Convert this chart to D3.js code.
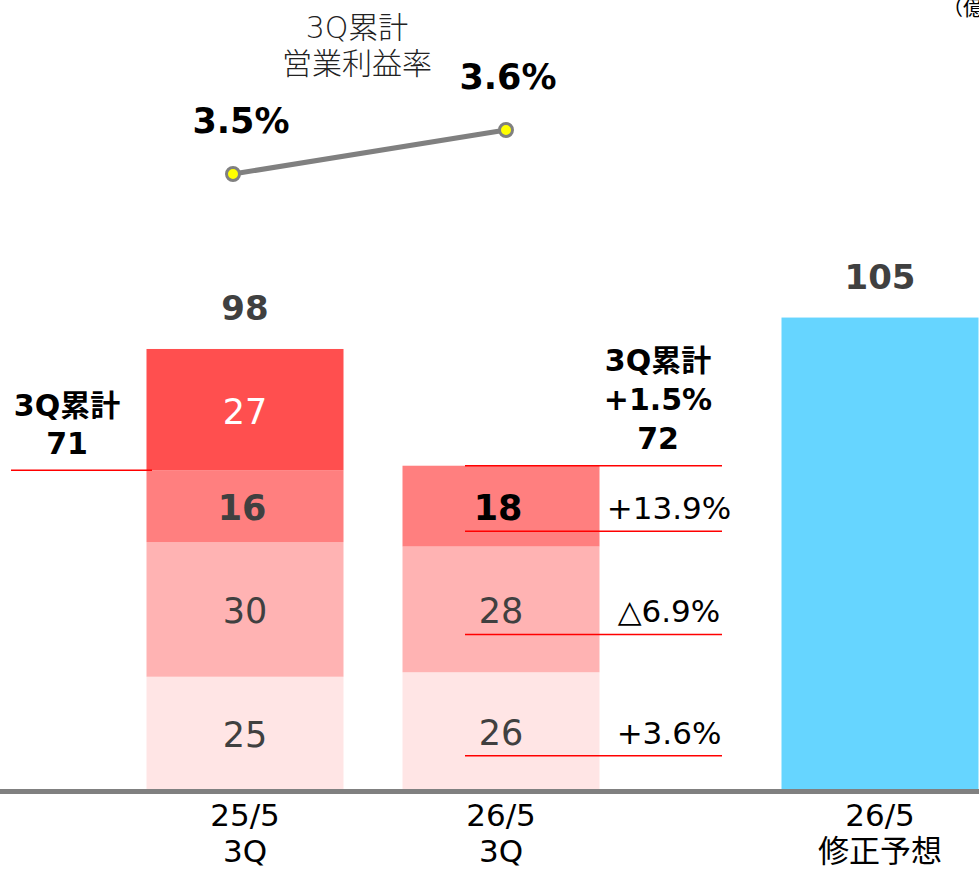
<!DOCTYPE html>
<html>
<head>
<meta charset="utf-8">
<script src="https://cdn.jsdelivr.net/npm/d3@7"></script>
<style>
  body { margin: 0; background: #fff; }
  svg { display: block; }
  text { font-family: "DejaVu Sans", "Noto Sans CJK JP", sans-serif; }
</style>
</head>
<body>
<svg id="chart"></svg>
<script>
// data
var categories = ["25/5 3Q", "26/5 3Q", "26/5 修正予想"];
var catLines = [["25/5", "3Q"], ["26/5", "3Q"], ["26/5", "修正予想"]];
var quarters = ["1Q", "2Q", "3Q", "4Q"];
var q1 = [25, 26, 0];
var q2 = [30, 28, 0];
var q3 = [16, 18, 0];
var q4 = [27, 0, 0];
var forecast = [0, 0, 105];
var totals = [98, null, 105];
var marginRate = [3.5, 3.6];
var cumulative = [71, 72];
var growth = ["+3.6%", "△6.9%", "+13.9%"]; // 1Q, 2Q, 3Q yoy
var cumGrowth = "+1.5%";

var W = 979, H = 871;
var svg = d3.select("#chart").attr("width", W).attr("height", H);

var x = d3.scaleOrdinal().domain(categories).range([245, 501, 880]);
var barW = 197;
var y = d3.scaleLinear().domain([0, 100]).range([789, 340]);

var colors = d3.scaleOrdinal().domain(quarters)
    .range(["#FFE5E5", "#FFB3B3", "#FF7F7F", "#FF4F4F"]);

var rows = categories.map(function(c, i){
    return { cat: c, "1Q": q1[i], "2Q": q2[i], "3Q": q3[i], "4Q": q4[i] };
});
var series = d3.stack().keys(quarters)(rows);

// stacked bars
var g = svg.append("g");
series.forEach(function(s){
    g.selectAll(null).data(s.filter(function(d){ return d[1] > d[0]; }))
        .enter().append("rect")
        .attr("x", function(d){ return x(d.data.cat) - barW / 2; })
        .attr("width", barW)
        .attr("y", function(d){ return y(d[1]); })
        .attr("height", function(d){ return y(d[0]) - y(d[1]); })
        .attr("fill", colors(s.key));
});

// forecast bar
g.selectAll(null).data(categories.filter(function(c, i){ return forecast[i] > 0; }))
    .enter().append("rect")
    .attr("x", function(c){ return x(c) - barW / 2; })
    .attr("width", barW)
    .attr("y", function(c){ return y(forecast[categories.indexOf(c)]); })
    .attr("height", function(c){ return y(0) - y(forecast[categories.indexOf(c)]); })
    .attr("fill", "#66D5FF");

// segment labels
var labelStyle = {
    "1Q": { fill: "#404040", weight: "normal" },
    "2Q": { fill: "#404040", weight: "normal" },
    "3Q": { fill: "#404040", weight: "bold" },
    "4Q": { fill: "#ffffff", weight: "normal" }
};
series.forEach(function(s){
    g.selectAll(null).data(s.filter(function(d){ return d[1] > d[0]; }))
        .enter().append("text")
        .attr("x", function(d){ return x(d.data.cat) - (s.key === "3Q" ? 3 : 0); })
        .attr("y", function(d){ return (y(d[0]) + y(d[1])) / 2 + 2; })
        .attr("text-anchor", "middle")
        .attr("dominant-baseline", "central")
        .attr("font-size", 35)
        .attr("font-weight", labelStyle[s.key].weight)
        .attr("fill", function(d){ return (s.key === "3Q" && d.data.cat === categories[1]) ? "#000" : labelStyle[s.key].fill; })
        .text(function(d){ return d[1] - d[0]; });
});

// totals
g.selectAll(null).data(categories.filter(function(c, i){ return totals[i] != null; }))
    .enter().append("text")
    .attr("x", function(c){ return x(c); })
    .attr("y", function(c){ return y(totals[categories.indexOf(c)]) - 41; })
    .attr("text-anchor", "middle")
    .attr("dominant-baseline", "central")
    .attr("font-size", 34)
    .attr("font-weight", "bold")
    .attr("fill", "#404040")
    .text(function(c){ return totals[categories.indexOf(c)]; });

// baseline
svg.append("line")
    .attr("x1", 0).attr("x2", W)
    .attr("y1", y(0) + 2.5).attr("y2", y(0) + 2.5)
    .attr("stroke", "#808080").attr("stroke-width", 5);

// category labels
catLines.forEach(function(lines, i){
    var t = svg.append("text")
        .attr("x", x(categories[i]))
        .attr("text-anchor", "middle")
        .attr("font-family", "'Noto Sans CJK JP', sans-serif")
        .attr("font-size", 31)
        .attr("fill", "#000");
    lines.forEach(function(l, k){
        t.append("tspan").attr("x", x(categories[i])).attr("y", 826 + k * 36).text(l);
    });
});

// 3Q cumulative annotations
var red = "#FF0000";
svg.append("line")
    .attr("x1", 11).attr("x2", 152)
    .attr("y1", y(cumulative[0])).attr("y2", y(cumulative[0]))
    .attr("stroke", red).attr("stroke-width", 1.5);
var leftLbl = ["3Q累計", String(cumulative[0])];
leftLbl.forEach(function(l, k){
    svg.append("text")
        .attr("x", 67).attr("y", 405 + k * 38)
        .attr("text-anchor", "middle").attr("dominant-baseline", "central")
        .attr("font-size", 30).attr("font-weight", "bold").attr("fill", "#000")
        .text(l);
});

svg.append("line")
    .attr("x1", 465).attr("x2", 722)
    .attr("y1", y(cumulative[1])).attr("y2", y(cumulative[1]))
    .attr("stroke", red).attr("stroke-width", 1.5);
var rightLbl = ["3Q累計", cumGrowth, String(cumulative[1])];
rightLbl.forEach(function(l, k){
    svg.append("text")
        .attr("x", 658).attr("y", 360 + k * 39)
        .attr("text-anchor", "middle").attr("dominant-baseline", "central")
        .attr("font-size", 30).attr("font-weight", "bold").attr("fill", "#000")
        .text(l);
});

// yoy growth per quarter with underline
var s2 = series.slice(0, 3).map(function(s){ return s[1]; });
s2.forEach(function(d, i){
    var cy = (y(d[0]) + y(d[1])) / 2 + 2;
    svg.append("text")
        .attr("x", 669).attr("y", cy)
        .attr("text-anchor", "middle").attr("dominant-baseline", "central")
        .attr("font-size", 31).attr("fill", "#000")
        .text(growth[i]);
    svg.append("line")
        .attr("x1", 465).attr("x2", 722)
        .attr("y1", cy + 23).attr("y2", cy + 23)
        .attr("stroke", red).attr("stroke-width", 1.5);
});

// operating margin line
var lx = d3.scalePoint().domain(categories.slice(0, 2)).range([233, 506]);
var ly = d3.scaleLinear().domain([3.5, 3.6]).range([174, 130]);
var mData = marginRate.map(function(v, i){ return { cat: categories[i], v: v }; });

svg.append("path")
    .datum(mData)
    .attr("d", d3.line().x(function(d){ return lx(d.cat); }).y(function(d){ return ly(d.v); }))
    .attr("fill", "none").attr("stroke", "#808080").attr("stroke-width", 5);

svg.selectAll(".mdot").data(mData).enter().append("circle")
    .attr("class", "mdot")
    .attr("cx", function(d){ return lx(d.cat); })
    .attr("cy", function(d){ return ly(d.v); })
    .attr("r", 6.5)
    .attr("fill", "#FFFF00").attr("stroke", "#808080").attr("stroke-width", 3);

svg.selectAll(".mlbl").data(mData).enter().append("text")
    .attr("class", "mlbl")
    .attr("x", function(d){ return lx(d.cat) + (d.v === marginRate[0] ? 8 : 2); })
    .attr("y", function(d){ return ly(d.v) - 53; })
    .attr("text-anchor", "middle").attr("dominant-baseline", "central")
    .attr("font-size", 35).attr("font-weight", "bold").attr("fill", "#000")
    .text(function(d){ return d.v.toFixed(1) + "%"; });

["3Q累計", "営業利益率"].forEach(function(l, k){
    svg.append("text")
        .attr("x", 357).attr("y", 27 + k * 36)
        .attr("text-anchor", "middle").attr("dominant-baseline", "central")
        .attr("font-family", "'Noto Sans CJK JP', sans-serif")
        .attr("font-size", 30).attr("font-weight", 300).attr("fill", "#222")
        .text(l);
});

// unit
svg.append("text")
    .attr("x", 942).attr("y", 8)
    .attr("dominant-baseline", "central")
    .attr("font-family", "'Noto Sans CJK JP', sans-serif")
    .attr("font-size", 21).attr("fill", "#000")
    .text("（億円）");
</script>
</body>
</html>
